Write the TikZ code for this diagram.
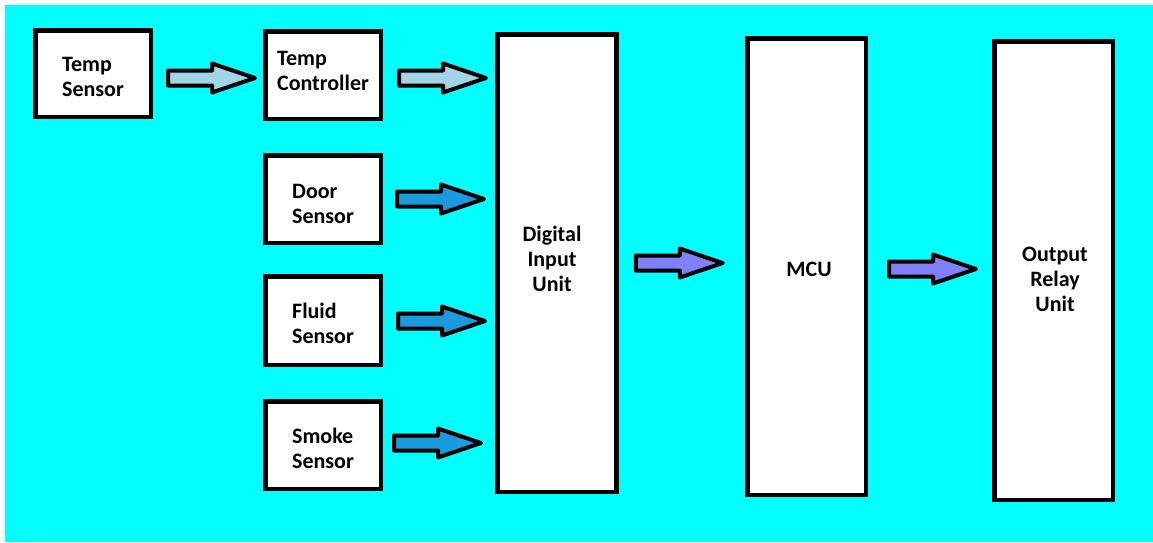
\documentclass[tikz,border=0pt]{standalone}
\usepackage{fontspec}
\setmainfont{Carlito}
\usetikzlibrary{calc}
\definecolor{bgcyan}{RGB}{0,255,255}
\definecolor{lblue}{RGB}{160,212,230}
\definecolor{mblue}{RGB}{25,155,222}
\definecolor{vblue}{RGB}{128,128,250}
\begin{document}
\begin{tikzpicture}[x=1pt,y=-1pt,
  box/.style={draw=black, line width=4.5pt, fill=white, inner sep=0pt,
    minimum width=115.5pt, minimum height=87.5pt},
  tall/.style={box, minimum width=119pt, minimum height=458pt},
  txt/.style={font=\bfseries\fontsize{22}{25}\selectfont, inner sep=0pt, text=black},
  barrow/.style n args={3}{draw=black, line width=4pt, line join=round, fill=#1,
    to path={let \p1=(\tikztostart.east) in
      (\x1+#3pt+2pt,-#2pt+7.5pt) -- (\x1+#3pt+46pt,-#2pt+7.5pt) --
      (\x1+#3pt+46pt,-#2pt+14.5pt) -- (\x1+#3pt+89pt,-#2pt) --
      (\x1+#3pt+46pt,-#2pt-14.5pt) -- (\x1+#3pt+46pt,-#2pt-7.5pt) --
      (\x1+#3pt+2pt,-#2pt-7.5pt) -- cycle}}]
\fill[white] (0,0) rectangle (1153,542);
\useasboundingbox (0,0) rectangle (1153,542);
\fill[bgcyan] (5,5) rectangle (1153,542);

% boxes
\node[box, minimum height=86.5pt] (ts) at (93,73.5) {};
\node[box] (tc) at (323,75) {};
\node[box] (ds) at (323,199) {};
\node[box, minimum height=88.5pt] (fs) at (323,320.5) {};
\node[box] (ss) at (323,445) {};
\node[tall, minimum height=457.5pt] (diu) at (557,263) {};
\node[tall, minimum width=118.5pt, minimum height=456.5pt] (mcu) at (806.5,266.5) {};
\node[tall, minimum width=118.5pt, minimum height=458.5pt] (oru) at (1053.5,270.5) {};

% texts
\node[txt, align=left] (tst) at ($(ts.center)+(0,3.5)$) {Temp\\Sensor};
\node[txt, align=left] (tct) at ($(tc.center)+(0,-4)$) {Temp\\Controller};
\node[txt, align=left] (dst) at ($(ds.center)+(0,5)$) {Door\\Sensor};
\node[txt, align=left] (fst) at ($(fs.center)+(0,3)$) {Fluid\\Sensor};
\node[txt, align=left] (sst) at ($(ss.center)+(0,3)$) {Smoke\\Sensor};
\node[txt, align=center] (diut) at ($(diu.center)+(-5,-4)$) {Digital\\Input\\Unit};
\node[txt] (mcut) at ($(mcu.center)+(2.5,2.5)$) {MCU};
\node[txt, align=center] (orut) at ($(oru.center)+(1.5,8.5)$) {Output\\Relay\\Unit};

% arrows
\draw[barrow={lblue}{78}{13}] (ts) to (tc);
\draw[barrow={lblue}{78}{14}] (tc) to (diu);
\draw[barrow={mblue}{199}{12}] (ds) to (diu);
\draw[barrow={mblue}{321}{13}] (fs) to (diu);
\draw[barrow={mblue}{443}{9}] (ss) to (diu);
\draw[barrow={vblue}{263}{15}] (diu) to (mcu);
\draw[barrow={vblue}{269}{19}] (mcu) to (oru);
\end{tikzpicture}
\end{document}
